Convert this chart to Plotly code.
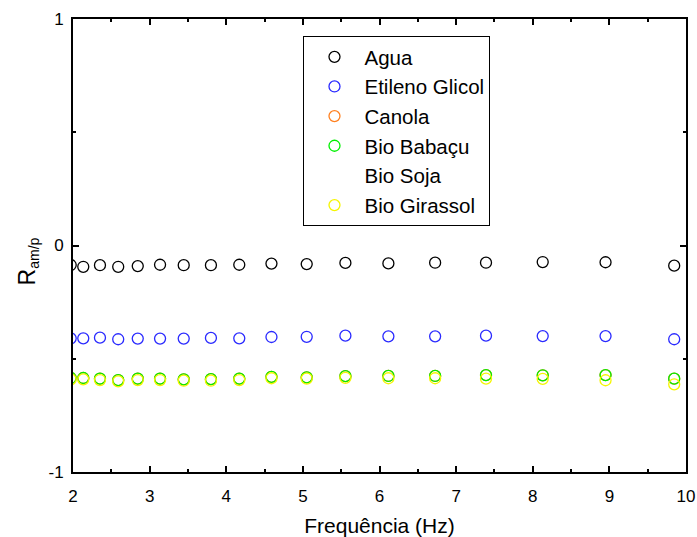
import plotly.graph_objects as go

freq = [1.97, 2.134, 2.352, 2.59, 2.845, 3.136, 3.445, 3.80, 4.17, 4.59,
        5.05, 5.555, 6.116, 6.726, 7.39, 8.13, 8.95, 9.846]

agua = [-0.086, -0.094, -0.087, -0.094, -0.091, -0.085, -0.087, -0.087, -0.085,
        -0.080, -0.082, -0.077, -0.079, -0.076, -0.076, -0.073, -0.074, -0.089]
etileno = [-0.410, -0.410, -0.407, -0.414, -0.411, -0.411, -0.411, -0.408, -0.410,
           -0.404, -0.403, -0.398, -0.401, -0.401, -0.398, -0.400, -0.400, -0.414]
canola = [-0.585, -0.585, -0.588, -0.594, -0.588, -0.588, -0.591, -0.590, -0.588,
          -0.580, -0.582, -0.577, -0.576, -0.576, -0.572, -0.573, -0.572, -0.588]
babacu = [-0.585, -0.585, -0.588, -0.594, -0.588, -0.588, -0.591, -0.590, -0.588,
          -0.580, -0.582, -0.577, -0.576, -0.576, -0.572, -0.573, -0.572, -0.588]
soja = [-0.591, -0.591, -0.594, -0.600, -0.594, -0.594, -0.597, -0.597, -0.594,
        -0.586, -0.588, -0.584, -0.586, -0.586, -0.588, -0.589, -0.595, -0.613]
girassol = [-0.591, -0.591, -0.594, -0.600, -0.594, -0.594, -0.597, -0.597, -0.594,
            -0.586, -0.588, -0.584, -0.586, -0.586, -0.588, -0.589, -0.595, -0.613]

x_ticks = [2, 3, 4, 5, 6, 7, 8, 9, 10]
y_ticks = [-1, 0, 1]
y_ticktext = ["-1", "0", "1"]

series = [
    ("Agua", agua, "#000000"),
    ("Etileno Glicol", etileno, "#2a2aff"),
    ("Canola", canola, "#ff8020"),
    ("Bio Babaçu", babacu, "#00f000"),
    ("Bio Soja", soja, "rgba(0,0,0,0)"),
    ("Bio Girassol", girassol, "#f5f500"),
]

FONT = "Arial, Liberation Sans, sans-serif"

fig = go.Figure()
for name, vals, col in series:
    fig.add_trace(go.Scatter(
        x=freq, y=vals, name=name, mode="markers",
        marker=dict(symbol="circle-open", size=11, color=col,
                    line=dict(width=1.3, color=col)),
    ))

axis_common = dict(
    showgrid=False, zeroline=False, showline=True, linecolor="black",
    linewidth=2, mirror="ticks", ticks="inside", ticklen=6, tickwidth=1.5,
    tickcolor="black", tickfont=dict(family=FONT, size=17, color="black"),
    automargin=False,
)

fig.update_xaxes(range=[2, 10], tickvals=x_ticks,
                 minor=dict(dtick=0.5, ticks="inside", ticklen=3, tickwidth=1.5, tickcolor="black"),
                 title=dict(text="Frequência (Hz)", font=dict(family=FONT, size=21, color="black"),
                            standoff=17),
                 ticklabelstandoff=8,
                 **axis_common)
fig.update_yaxes(range=[-1, 1], tickvals=y_ticks, ticktext=y_ticktext,
                 minor=dict(dtick=0.5, ticks="inside", ticklen=3, tickwidth=1.5, tickcolor="black"),
                 ticklabelstandoff=4,
                 **axis_common)

fig.add_annotation(
    text="R<sub><span style='font-size:14px'>am/p</span></sub>",
    xref="paper", yref="paper", x=-0.0726, y=0.466,
    xanchor="center", yanchor="middle", textangle=-90, showarrow=False,
    font=dict(family=FONT, size=23, color="black"),
)

fig.update_layout(
    width=697, height=537,
    margin=dict(l=73, r=11, t=19, b=65),
    plot_bgcolor="white", paper_bgcolor="white",
    legend=dict(x=0.376, y=0.9625, xanchor="left", yanchor="top",
                bordercolor="black", borderwidth=1, bgcolor="white",
                font=dict(family=FONT, size=20.5, color="black"),
                itemwidth=50, tracegroupgap=0),
    showlegend=True,
)

fig.write_html("out.html")
